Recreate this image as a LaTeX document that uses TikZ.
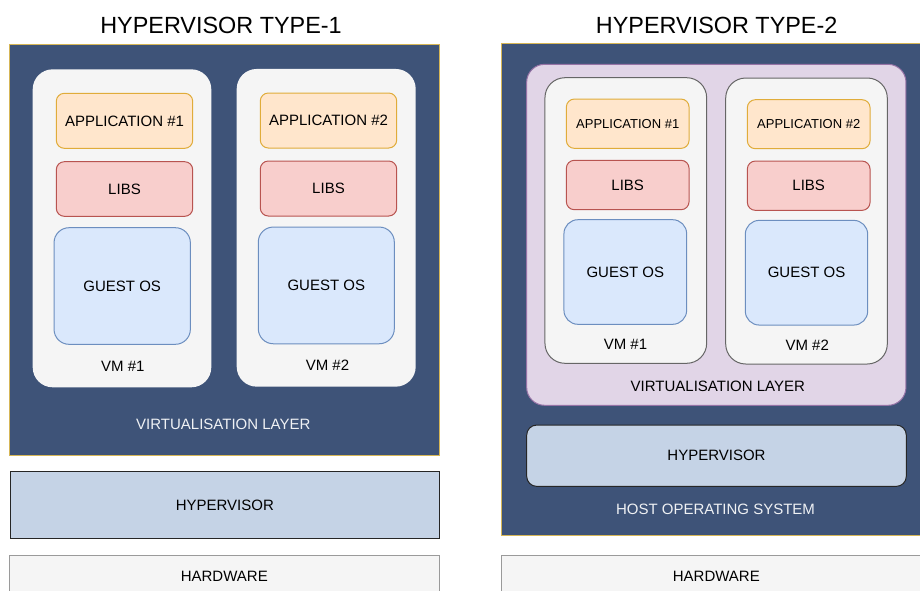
\documentclass[tikz,border=0pt]{standalone}
\usepackage{fontspec}
\setmainfont{Liberation Sans}
\definecolor{panel}{HTML}{3E5378}
\definecolor{panelline}{HTML}{D6B656}
\definecolor{vmfill}{HTML}{F5F5F5}
\definecolor{vmline}{HTML}{666666}
\definecolor{appfill}{HTML}{FFE6CC}
\definecolor{appline}{HTML}{E0AC3A}
\definecolor{libfill}{HTML}{F8CECC}
\definecolor{libline}{HTML}{B85450}
\definecolor{osfill}{HTML}{DAE8FC}
\definecolor{osline}{HTML}{6C8EBF}
\definecolor{hypfill}{HTML}{C5D3E6}
\definecolor{virtfill}{HTML}{E1D5E7}
\definecolor{virtline}{HTML}{9673A6}
\definecolor{hwline}{HTML}{9A9A9A}
\tikzset{
  box/.style={rectangle, inner sep=0pt, line width=1pt, text depth=0pt, font=\fontsize{15}{18}\selectfont},
  panelbox/.style={box, fill=panel, draw=panelline},
  vmbox/.style={box, fill=vmfill, rounded corners=20pt},
  appbox/.style={box, fill=appfill, draw=appline, rounded corners=8pt},
  libbox/.style={box, fill=libfill, draw=libline, rounded corners=8pt},
  osbox/.style={box, fill=osfill, draw=osline, rounded corners=15pt},
  hypbox/.style={box, fill=hypfill, draw=black!85},
  hwbox/.style={box, fill=vmfill, draw=hwline},
  virtbox/.style={box, fill=virtfill, draw=virtline, rounded corners=18pt},
  lbl/.style={inner sep=0pt, text depth=0pt, font=\fontsize{15}{18}\selectfont},
  small/.style={font=\fontsize{13}{16}\selectfont},
  title/.style={inner sep=0pt, text depth=0pt, font=\fontsize{23.4}{27}\selectfont},
}
\begin{document}
\begin{tikzpicture}[x=1pt, y=-1pt]
\useasboundingbox (0,0) rectangle (920,590);
\clip (0,0) rectangle (920,590);

% ---------- Type-1 ----------
\node[title] (t1) at (221,25) {HYPERVISOR TYPE-1};
\node[panelbox, minimum width=430pt, minimum height=411pt] (dark1) at (224.5,249.5) {};

\node[vmbox, minimum width=178.6pt, minimum height=318pt] (vm1a) at (122,228.3) {};
\node[vmbox, minimum width=179pt, minimum height=317.7pt] (vm2a) at (326.2,227.8) {};

\node[appbox, minimum width=136.4pt, minimum height=55pt] (app1a) at (124.5,120.8) {APPLICATION \#1};
\node[libbox, minimum width=136.4pt, minimum height=54.6pt] (libs1a) at (124.5,189) {LIBS};
\node[osbox, minimum width=136.3pt, minimum height=116.6pt] (os1a) at (122.2,286) {GUEST OS};

\node[appbox, minimum width=136.4pt, minimum height=55pt] (app2a) at (328.5,120.5) {APPLICATION \#2};
\node[libbox, minimum width=136.4pt, minimum height=55pt] (libs2a) at (328.5,188.5) {LIBS};
\node[osbox, minimum width=136pt, minimum height=116.7pt] (os2a) at (326.3,285.4) {GUEST OS};

\node[lbl] (vm1alabel) at (122.8,366.7) {VM \#1};
\node[lbl] (vm2alabel) at (327.5,365.5) {VM \#2};
\node[lbl, text=white!92!panel] (virtalabel) at (223.3,424) {VIRTUALISATION LAYER};

\node[hypbox, minimum width=429pt, minimum height=66.6pt] (hyp1) at (224.8,505) {HYPERVISOR};
\node[hwbox, minimum width=430pt, minimum height=42pt] (hw1) at (224.3,576.8) {HARDWARE};

% ---------- Type-2 ----------
\node[title] (t2) at (716.7,25) {HYPERVISOR TYPE-2};
\node[panelbox, minimum width=429.3pt, minimum height=492.3pt] (dark2) at (716.3,289.8) {};

\node[virtbox, minimum width=379.3pt, minimum height=341pt] (virt2) at (716.3,234.8) {};

\node[vmbox, draw=vmline, minimum width=161.7pt, minimum height=285.6pt] (vm1b) at (625.8,220.5) {};
\node[vmbox, draw=vmline, minimum width=161.6pt, minimum height=286pt] (vm2b) at (806.5,221) {};

\node[appbox, small, minimum width=122.7pt, minimum height=49.3pt] (app1b) at (627.7,123.7) {APPLICATION \#1};
\node[libbox, minimum width=122.7pt, minimum height=49.4pt] (libs1b) at (627.7,185) {LIBS};
\node[osbox, rounded corners=14pt, minimum width=122.7pt, minimum height=104.6pt] (os1b) at (625.3,272) {GUEST OS};

\node[appbox, small, minimum width=122.7pt, minimum height=49pt] (app2b) at (808.7,124.2) {APPLICATION \#2};
\node[libbox, minimum width=122.7pt, minimum height=49.3pt] (libs2b) at (808.7,185.7) {LIBS};
\node[osbox, rounded corners=14pt, minimum width=122.4pt, minimum height=104.7pt] (os2b) at (806.5,272.7) {GUEST OS};

\node[lbl] (vm1blabel) at (625.5,344.3) {VM \#1};
\node[lbl] (vm2blabel) at (807.2,345) {VM \#2};
\node[lbl] (virtblabel) at (717.8,386) {VIRTUALISATION LAYER};

\node[hypbox, rounded corners=10pt, minimum width=379.6pt, minimum height=61.3pt] (hyp2) at (716.5,455.7) {HYPERVISOR};
\node[lbl, text=white!92!panel] (hostlabel) at (715.5,509.3) {HOST OPERATING SYSTEM};

\node[hwbox, minimum width=429.3pt, minimum height=42pt] (hw2) at (716.3,576.8) {HARDWARE};
\end{tikzpicture}
\end{document}
